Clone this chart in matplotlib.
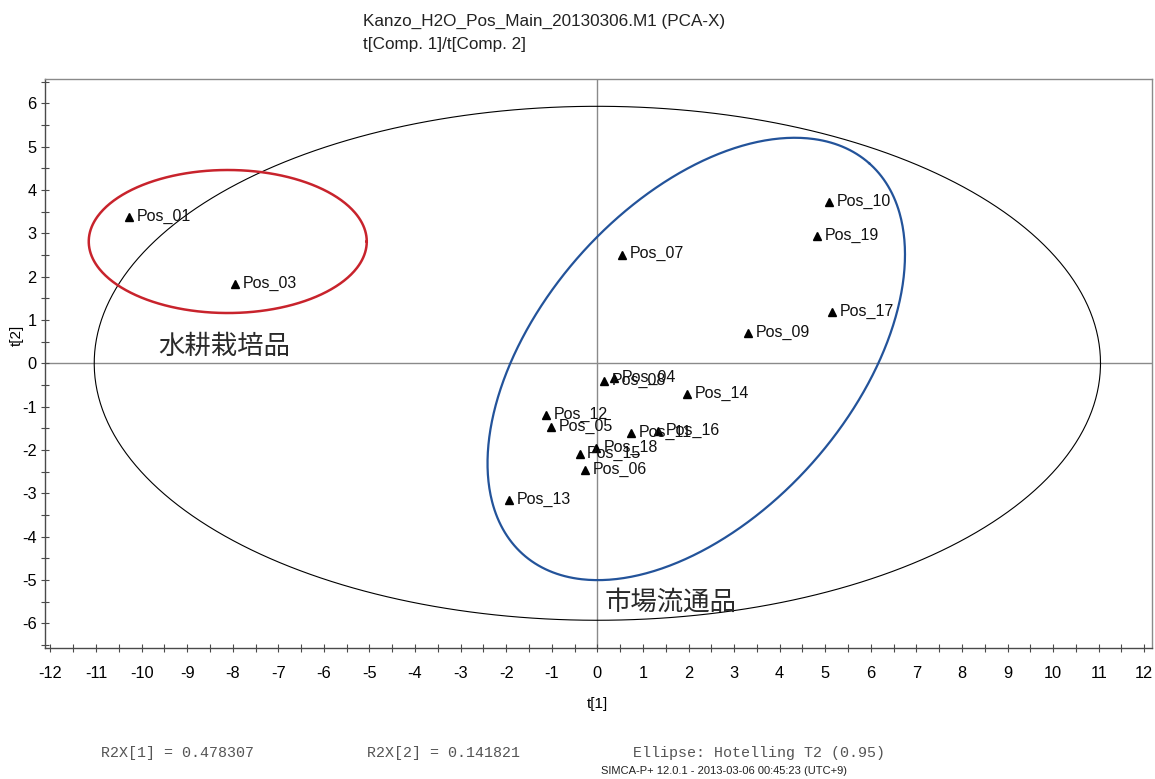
import numpy as np
import matplotlib
matplotlib.use("Agg")
import matplotlib.pyplot as plt
from matplotlib.ticker import MultipleLocator

plt.rcParams['font.family'] = ['Liberation Sans', 'DejaVu Sans']

# score plot values t[1], t[2]
names = ['Pos_01', 'Pos_03', 'Pos_04', 'Pos_05', 'Pos_06', 'Pos_07', 'Pos_08',
         'Pos_09', 'Pos_10', 'Pos_11', 'Pos_12', 'Pos_13', 'Pos_14', 'Pos_15',
         'Pos_16', 'Pos_17', 'Pos_18', 'Pos_19']
t1 = [-10.28, -7.94, 0.36, -1.02, -0.27, 0.55, 0.14,
      3.30, 5.09, 0.74, -1.13, -1.93, 1.97, -0.39,
      1.34, 5.15, -0.02, 4.82]
t2 = [3.37, 1.82, -0.35, -1.48, -2.46, 2.51, -0.42,
      0.69, 3.72, -1.62, -1.20, -3.15, -0.72, -2.10,
      -1.56, 1.18, -1.96, 2.94]

# Hotelling T2 (0.95) ellipse radii
t2_radius = [11.04, 5.93]

# hand drawn group ellipses
red_center = [-8.11, 2.81]
red_radius = [3.05, 1.65]
blue_center = [2.17, 0.10]
blue_axes = [5.73, 3.42]   # semi axes, in t[1] units of screen length
blue_angle = 48.5

group_labels = ['水耕栽培品', '市場流通品']
group_pos = [(-9.64, 0.38), (0.16, -5.52)]

fig = plt.figure(figsize=(11.55, 7.79), dpi=100)
ax = fig.add_axes([0.03896, 0.16816, 0.95844, 0.73043])
ax.set_xlim(-12.12, 12.17)
ax.set_ylim(-6.57, 6.56)

"""
Axes look
"""
for side in ['left', 'bottom']:
    ax.spines[side].set_color('#4a4a4a')
    ax.spines[side].set_linewidth(1.0)
for side in ['top', 'right']:
    ax.spines[side].set_color('#8a8a8a')
    ax.spines[side].set_linewidth(1.0)

ax.xaxis.set_major_locator(MultipleLocator(1))
ax.xaxis.set_minor_locator(MultipleLocator(0.5))
ax.yaxis.set_major_locator(MultipleLocator(1))
ax.yaxis.set_minor_locator(MultipleLocator(0.5))
ax.tick_params(which='both', direction='inout', length=6, width=0.8,
               color='#4a4a4a')
ax.tick_params(axis='x', which='major', labelsize=11.8, pad=10)
ax.tick_params(axis='y', which='major', labelsize=11.8, pad=3)
ax.set_xticks(np.arange(-12, 13))
ax.set_xticklabels([str(v) for v in range(-12, 13)])
ax.set_yticks(np.arange(-6, 7))
ax.set_yticklabels([str(v) for v in range(-6, 7)])

ax.axhline(0, color='#8a8a8a', lw=1.0, zorder=1)
ax.axvline(0, color='#8a8a8a', lw=1.0, zorder=1)

"""
Ellipses
"""
th = np.linspace(0, 2*np.pi, 500)
ax.plot(t2_radius[0]*np.cos(th), t2_radius[1]*np.sin(th), color='black', lw=0.8)

ax.plot(red_center[0] + red_radius[0]*np.cos(th),
        red_center[1] + red_radius[1]*np.sin(th), color='#c8232c', lw=1.8)

# screen aspect: how many y units per screen length of one x unit
bb = ax.get_position()
px_x = bb.width*fig.get_figwidth() / (ax.get_xlim()[1] - ax.get_xlim()[0])
px_y = bb.height*fig.get_figheight() / (ax.get_ylim()[1] - ax.get_ylim()[0])
ratio = px_x / px_y
phi = np.deg2rad(blue_angle)
u = blue_axes[0]*np.cos(th)
v = blue_axes[1]*np.sin(th)
bx = blue_center[0] + u*np.cos(phi) - v*np.sin(phi)
by = blue_center[1] + (u*np.sin(phi) + v*np.cos(phi))*ratio
ax.plot(bx, by, color='#23539a', lw=1.6)

"""
Points
"""
ax.plot(t1, t2, '^', color='black', markersize=6.3, zorder=5)
for nm, x, y in zip(names, t1, t2):
    ax.annotate(nm, (x, y), xytext=(5.5, 0.5), textcoords='offset points',
                ha='left', va='center', fontsize=11.5, color='#111111', zorder=6)

for lab, (x, y) in zip(group_labels, group_pos):
    ax.text(x, y, lab, fontsize=19, ha='left', va='center', color='#2a2a2a',
            family=['Noto Sans CJK JP', 'DejaVu Sans'])

"""
Texts around the plot
"""
fig.text(0.314, 1 - 21/779, 'Kanzo_H2O_Pos_Main_20130306.M1 (PCA-X)',
         fontsize=12.3, va='center', ha='left', color='#222222')
fig.text(0.314, 1 - 44/779, 't[Comp. 1]/t[Comp. 2]',
         fontsize=12.3, va='center', ha='left', color='#222222')
fig.text(597/1155, 1 - 704/779, 't[1]', fontsize=11, ha='center', va='center')
fig.text(17/1155, 1 - 335/779, 't[2]', fontsize=11, ha='center', va='center',
         rotation=90)

mono = ['Liberation Mono', 'DejaVu Sans Mono']
fig.text(101/1155, 1 - 753/779, 'R2X[1] = 0.478307', fontsize=10.8,
         family=mono, color='#555555', va='center')
fig.text(367/1155, 1 - 753/779, 'R2X[2] = 0.141821', fontsize=10.8,
         family=mono, color='#555555', va='center')
fig.text(633/1155, 1 - 753/779, 'Ellipse: Hotelling T2 (0.95)', fontsize=10.8,
         family=mono, color='#555555', va='center')
fig.text(601/1155, 1 - 771/779, 'SIMCA-P+ 12.0.1 - 2013-03-06 00:45:23 (UTC+9)',
         fontsize=8, color='#222222', va='center')

fig.savefig('out.png', dpi=100)
